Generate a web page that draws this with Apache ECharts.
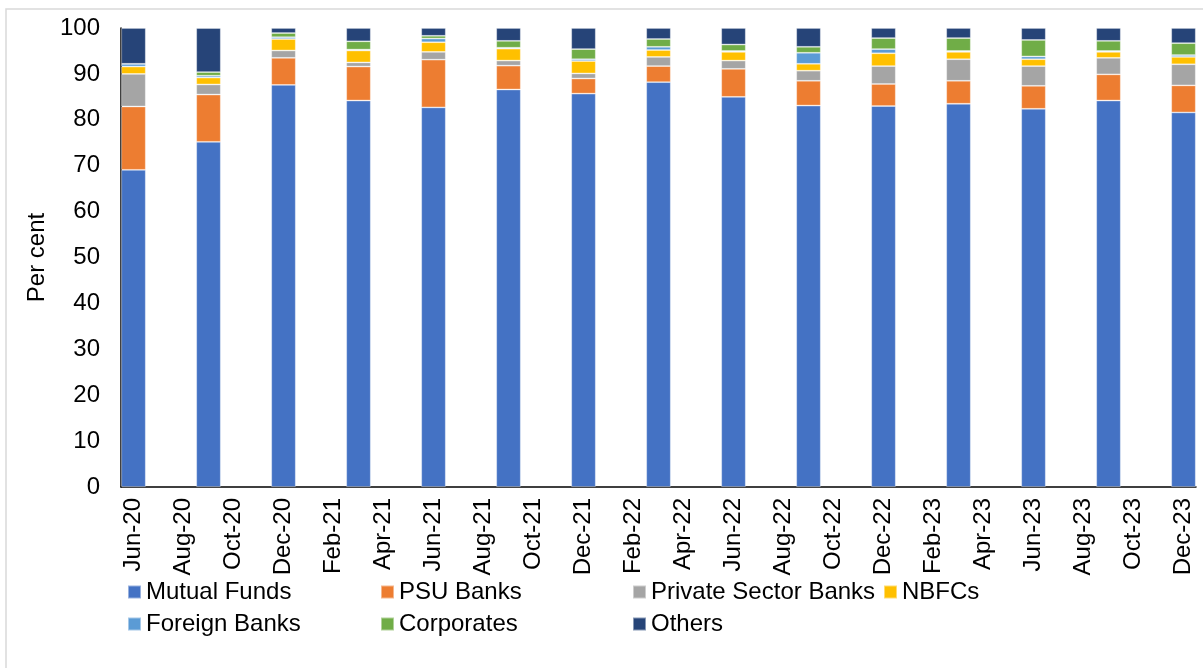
<!DOCTYPE html>
<html>
<head>
<meta charset="utf-8">
<title>Holders of certificates of deposit</title>
<script src="https://cdn.jsdelivr.net/npm/echarts@6/dist/echarts.min.js"></script>
<style>
  html, body { margin: 0; padding: 0; background: #fff; }
  #chart { width: 1203px; height: 668px; }
</style>
</head>
<body>
<div id="chart"></div>
<script>
// Monthly axis labels (every month is a category; bars sit at quarter ends)
const months = [
  'Jun-20','Jul-20','Aug-20','Sep-20','Oct-20','Nov-20','Dec-20',
  'Jan-21','Feb-21','Mar-21','Apr-21','May-21','Jun-21','Jul-21','Aug-21','Sep-21','Oct-21','Nov-21','Dec-21',
  'Jan-22','Feb-22','Mar-22','Apr-22','May-22','Jun-22','Jul-22','Aug-22','Sep-22','Oct-22','Nov-22','Dec-22',
  'Jan-23','Feb-23','Mar-23','Apr-23','May-23','Jun-23','Jul-23','Aug-23','Sep-23','Oct-23','Nov-23','Dec-23'
];

// Quarter-end observations
const quarters = [
  'Jun-20','Sep-20','Dec-20','Mar-21','Jun-21','Sep-21','Dec-21','Mar-22',
  'Jun-22','Sep-22','Dec-22','Mar-23','Jun-23','Sep-23','Dec-23'
];

// Share of outstanding amount held by each investor group (per cent)
const mutualFunds   = [69.1, 75.2, 87.6, 84.2, 82.7, 86.6, 85.7, 88.2, 85.0, 83.1, 83.0, 83.5, 82.4, 84.2, 81.6];
const psuBanks      = [13.8, 10.3,  5.9,  7.4, 10.4,  5.2,  3.3,  3.5,  6.1,  5.4,  4.8,  5.0,  5.0,  5.7,  5.9];
const privateBanks  = [ 7.1,  2.2,  1.6,  0.9,  1.7,  1.1,  1.1,  2.0,  1.8,  2.2,  3.9,  4.7,  4.3,  3.6,  4.6];
const nbfcs         = [ 1.6,  1.5,  2.5,  2.6,  2.1,  2.6,  2.7,  1.5,  1.9,  1.5,  2.8,  1.6,  1.5,  1.3,  1.6];
const foreignBanks  = [ 0.6,  0.4,  0.4,  0.2,  0.8,  0.2,  0.4,  0.7,  0.2,  2.4,  0.9,  0.2,  0.6,  0.2,  0.4];
const corporates    = [ 0.0,  0.8,  0.9,  1.8,  0.6,  1.5,  2.2,  1.7,  1.4,  1.3,  2.4,  2.8,  3.6,  2.2,  2.6];
const others        = [ 7.8,  9.6,  1.1,  2.9,  1.7,  2.8,  4.6,  2.4,  3.6,  4.1,  2.2,  2.2,  2.6,  2.8,  3.3];

const seriesNames  = ['Mutual Funds','PSU Banks','Private Sector Banks','NBFCs','Foreign Banks','Corporates','Others'];
const seriesValues = [mutualFunds, psuBanks, privateBanks, nbfcs, foreignBanks, corporates, others];
const seriesColors = ['#4472C4','#ED7D31','#A5A5A5','#FFC000','#5B9BD5','#70AD47','#264478'];

const FONT = '"Liberation Sans", Arial, Helvetica, sans-serif';
const FS = 24;

// spread quarterly values over the monthly axis
function toMonthly(values) {
  return months.map(m => {
    const i = quarters.indexOf(m);
    return i >= 0 ? values[i] : null;
  });
}

const series = seriesNames.map((name, k) => ({
  name: name,
  type: 'bar',
  stack: 'total',
  barWidth: '98%',
  data: toMonthly(seriesValues[k]),
  itemStyle: {
    color: seriesColors[k],
    borderColor: 'rgba(255,255,255,0.45)',
    borderWidth: 0.8
  },
  emphasis: { disabled: true }
}));

// legend laid out in two rows with fixed column positions
const legendPos = [
  [127, 0], [380, 0], [632, 0], [883, 0],
  [127, 1], [380, 1], [632, 1]
];
const legends = seriesNames.map((name, k) => ({
  data: [name],
  left: legendPos[k][0],
  top: 580 + legendPos[k][1] * 32,
  icon: 'rect',
  itemWidth: 13,
  itemHeight: 13,
  selectedMode: false,
  padding: 0,
  textStyle: { fontFamily: FONT, fontSize: FS, color: '#000', padding: [0, 0, 0, 0] }
}));

const chart = echarts.init(document.getElementById('chart'), null, { renderer: 'canvas' });
chart.setOption({
  animation: false,
  backgroundColor: '#fff',
  textStyle: { fontFamily: FONT },
  color: seriesColors,
  grid: { left: 121, right: 7, top: 28, bottom: 181, containLabel: false },
  legend: legends,
  graphic: [{
    type: 'rect',
    silent: true,
    shape: { x: 6, y: 9, width: 1230, height: 700 },
    style: { fill: 'none', stroke: '#d9d9d9', lineWidth: 1.5 }
  }],
  xAxis: {
    type: 'category',
    data: months,
    boundaryGap: true,
    axisLine: { show: true, lineStyle: { color: '#000', width: 1.5 } },
    axisTick: { show: false },
    axisLabel: {
      interval: 1,
      rotate: 90,
      margin: 11,
      fontFamily: FONT,
      fontSize: FS,
      color: '#000'
    },
    splitLine: { show: false }
  },
  yAxis: {
    type: 'value',
    min: 0,
    max: 100,
    interval: 10,
    name: 'Per cent',
    nameLocation: 'middle',
    nameRotate: 90,
    nameGap: 71,
    nameTextStyle: { fontFamily: FONT, fontSize: FS, color: '#000' },
    axisLine: { show: true, lineStyle: { color: '#000', width: 1.5 } },
    axisTick: { show: false },
    axisLabel: { margin: 21, fontFamily: FONT, fontSize: FS, color: '#000' },
    splitLine: { show: false }
  },
  series: series
});
</script>
</body>
</html>
